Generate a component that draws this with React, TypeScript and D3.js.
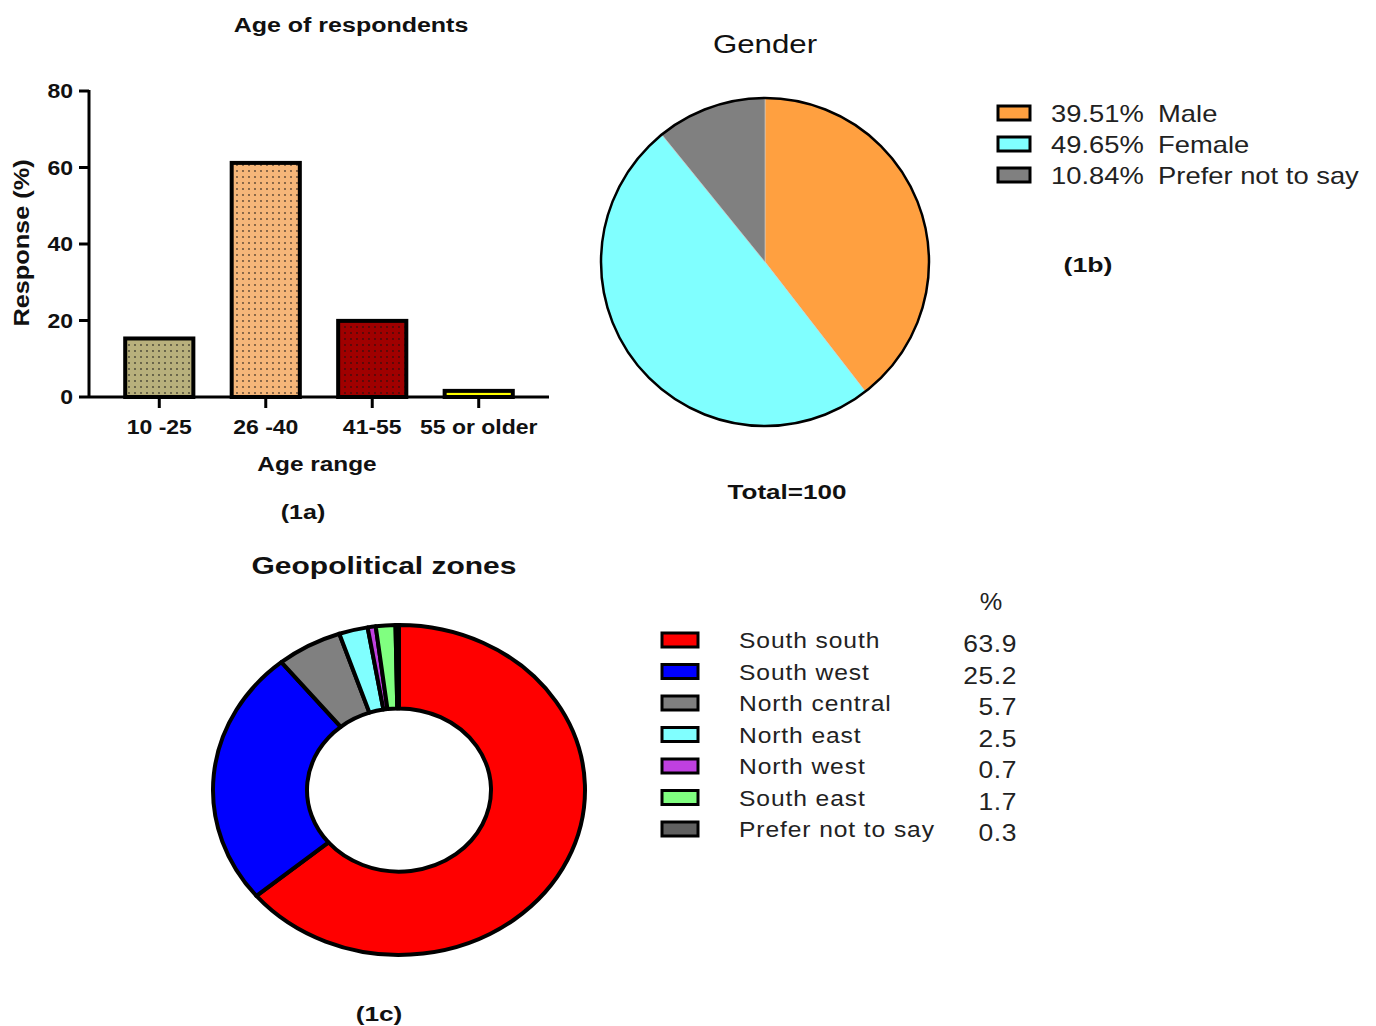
import React from 'react';
import * as d3 from 'd3';

// Age of respondents (1a)
const ageRanges = ['10 -25', '26 -40', '41-55', '55 or older'];
const ageValues = [15.3, 61.2, 19.9, 1.6];
const ageColors = ['#B8B07C', '#F6B679', '#A00000', '#FFFF00'];
const ageTicks = [0, 20, 40, 60, 80];

// Gender (1b)
const genderLabels = ['Male', 'Female', 'Prefer not to say'];
const genderValues = [39.51, 49.65, 10.84];
const genderColors = ['#FFA040', '#80FFFF', '#808080'];

// Geopolitical zones (1c)
const zoneLabels = ['South south', 'South west', 'North central', 'North east', 'North west', 'South east', 'Prefer not to say'];
const zoneValues = [63.9, 25.2, 5.7, 2.5, 0.7, 1.7, 0.3];
const zoneColors = ['#FF0000', '#0000FF', '#808080', '#80FFFF', '#C040E0', '#80FF80', '#606060'];

const FONT = 'Liberation Sans, Arial, sans-serif';

// text that is a bit wider than the font, like the original export
const T = ({ x, y, size, sx = 1.2, anchor = 'middle', bold = false, fill = '#111', spacing = 0, children }: any) => (
  <text
    transform={`translate(${x},${y}) scale(${sx},1)`}
    textAnchor={anchor}
    fontFamily={FONT}
    fontSize={size}
    fontWeight={bold ? 'bold' : 'normal'}
    letterSpacing={spacing}
    fill={fill}
  >
    {children}
  </text>
);

const BarChart = () => {
  const left = 89;
  const right = 549;
  const top = 91;
  const bottom = 397;
  const x = d3.scaleBand().domain(ageRanges).range([left, right]).paddingInner(0.36).paddingOuter(0.34);
  const y = d3.scaleLinear().domain([0, 80]).range([bottom, top]);

  return (
    <g>
      <defs>
        {ageColors.map((c, i) => (
          <pattern key={i} id={`dots${i}`} width={6} height={6} patternUnits="userSpaceOnUse">
            <rect width={6} height={6} fill={c} />
            <circle cx={3} cy={3} r={0.9} fill="#111" opacity={0.7} />
          </pattern>
        ))}
      </defs>
      <T x={351} y={32} size={20} sx={1.25} bold>Age of respondents</T>
      {ageValues.map((v, i) => (
        <rect
          key={ageRanges[i]}
          x={x(ageRanges[i])}
          y={y(v)}
          width={x.bandwidth()}
          height={bottom - y(v)}
          fill={i === 3 ? ageColors[i] : `url(#dots${i})`}
          stroke="#000"
          strokeWidth={4}
        />
      ))}
      {/* axes */}
      <line x1={left} x2={left} y1={top - 1} y2={bottom} stroke="#000" strokeWidth={3} />
      <line x1={left} x2={right} y1={bottom} y2={bottom} stroke="#000" strokeWidth={3} />
      {ageTicks.map((t) => (
        <g key={t}>
          <line x1={left - 10} x2={left} y1={y(t)} y2={y(t)} stroke="#000" strokeWidth={3} />
          <T x={left - 16} y={y(t) + 7} size={20} sx={1.15} anchor="end" bold>{t}</T>
        </g>
      ))}
      {ageRanges.map((r) => {
        const cx = (x(r) as number) + x.bandwidth() / 2;
        return (
          <g key={r}>
            <line x1={cx} x2={cx} y1={bottom} y2={bottom + 11} stroke="#000" strokeWidth={3} />
            <T x={cx} y={434} size={20} sx={1.15} bold>{r}</T>
          </g>
        );
      })}
      <text transform="translate(29,243) rotate(-90) scale(1.15,1)" textAnchor="middle" fontFamily={FONT} fontSize={22} fontWeight="bold" fill="#111">Response (%)</text>
      <T x={317} y={471} size={20} sx={1.22} bold>Age range</T>
      <T x={303} y={519} size={20} sx={1.25} bold>(1a)</T>
    </g>
  );
};

const GenderPie = () => {
  const cx = 765;
  const cy = 262;
  const r = 164;
  const pie = d3.pie<number>().sort(null)(genderValues);
  const arc = d3.arc<d3.PieArcDatum<number>>().innerRadius(0).outerRadius(r);
  return (
    <g>
      <T x={765} y={53} size={25} sx={1.25}>Gender</T>
      <g transform={`translate(${cx},${cy})`}>
        {pie.map((d, i) => (
          <path key={i} d={arc(d) as string} fill={genderColors[i]} stroke="#ccc" strokeWidth={0.6} />
        ))}
        <circle r={r} fill="none" stroke="#000" strokeWidth={2.5} />
      </g>
      {genderLabels.map((l, i) => (
        <g key={l} transform={`translate(998,${106 + i * 31})`}>
          <rect width={32} height={14} fill={genderColors[i]} stroke="#000" strokeWidth={3} />
          <T x={53} y={16} size={23} sx={1.19} anchor="start" fill="#222">
            {`${genderValues[i].toFixed(2)}%`}
            <tspan dx={12}>{l}</tspan>
          </T>
        </g>
      ))}
      <T x={1088} y={272} size={21} sx={1.27} bold>(1b)</T>
      <T x={787} y={499} size={21} sx={1.24} bold>Total=100</T>
    </g>
  );
};

const ZoneDonut = () => {
  const cx = 399;
  const cy = 790;
  const rx = 186;
  const ry = 165;
  const pie = d3.pie<number>().sort(null)(zoneValues);
  const arc = d3.arc<d3.PieArcDatum<number>>().innerRadius(92).outerRadius(rx);
  return (
    <g>
      <T x={384} y={574} size={24} sx={1.25} bold>Geopolitical zones</T>
      <g transform={`translate(${cx},${cy}) scale(1,${ry / rx})`}>
        {pie.map((d, i) => (
          <path
            key={i}
            d={arc(d) as string}
            fill={zoneColors[i]}
            stroke="#000"
            strokeWidth={4}
            strokeLinejoin="round"
            style={{ vectorEffect: 'non-scaling-stroke' }}
          />
        ))}
      </g>
      <T x={991} y={610} size={23} sx={1.1} fill="#222">%</T>
      {zoneLabels.map((l, i) => (
        <g key={l} transform={`translate(662,${633 + i * 31.5})`}>
          <rect width={36} height={14} fill={zoneColors[i]} stroke="#000" strokeWidth={3} />
          <T x={77} y={15} size={22} sx={1.12} anchor="start" spacing={0.8} fill="#222">{l}</T>
          <T x={355} y={19} size={23} sx={1.15} anchor="end" spacing={0.5} fill="#222">{zoneValues[i].toFixed(1)}</T>
        </g>
      ))}
      <T x={379} y={1021} size={21} sx={1.25} bold>(1c)</T>
    </g>
  );
};

const App = () => (
  <svg width={1376} height={1026} viewBox="0 0 1376 1026" style={{ position: 'absolute', left: 0, top: 0, background: '#fff' }}>
    <rect width={1376} height={1026} fill="#fff" />
    <BarChart />
    <GenderPie />
    <ZoneDonut />
  </svg>
);

export default App;
